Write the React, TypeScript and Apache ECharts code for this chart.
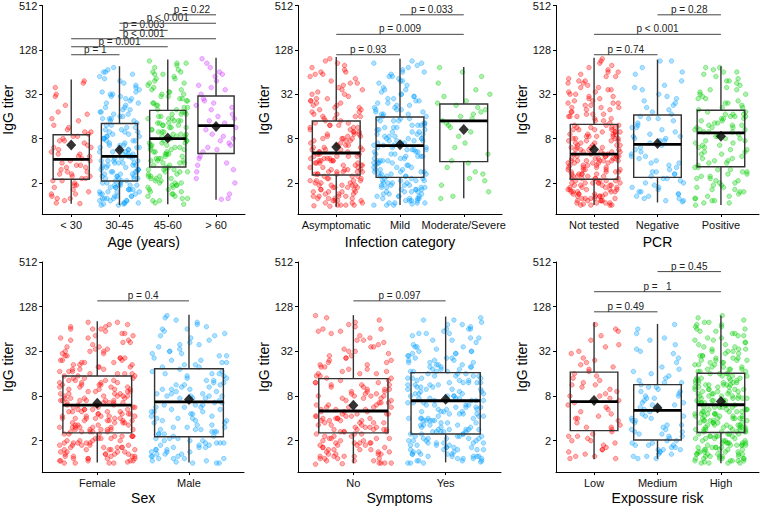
import React, { useEffect, useRef } from "react";
import * as echarts from "echarts";

const FONT = '"Liberation Sans", Arial, Helvetica, sans-serif';

// ---------- tick labels (log2 scale) ----------
const yTickExponents = [1, 3, 5, 7, 9]; // 2, 8, 32, 128, 512
const yName = "IgG titer";

// ---------- Panel 1: Age ----------
const ageCats = ["< 30", "30-45", "45-60", "> 60"];
const ageTitle = "Age (years)";
const ageU30 = [0.1,2.3,1.3,3.4,5.6,0.4,3.1,1.9,1.5,4.2,0.9,2.6,2.1,2.0,3.3,0.2,1.0,4.9,1.2,2.9,3.8,2.4,0.6,1.7,1.4,0.3,5.5,3.0,2.2,3.5,1.8,1.1,0.5,1.6,2.7,4.5,3.3,0.8,1.3,2.5,3.1,5.0,0.07,2.0,1.5,2.8,3.9,0.7,1.1,4.1,2.3,1.8,3.6,1.2,0.3,2.6,2.9,0.9,5.3,1.7,1.4,2.2,0.5,3.2];
const age3045 = [0.2,1.5,2.9,4.4,5.1,0.7,1.9,3.1,2.4,4.0,0.05,1.3,1.8,3.5,5.8,0.9,0.4,2.7,1.2,4.8,3.9,1.6,0.6,2.5,2.0,0.1,3.3,5.4,6.2,2.3,1.0,1.4,0.3,1.7,3.0,4.1,4.6,0.8,2.1,2.6,1.1,5.0,0.5,3.6,2.8,1.3,4.3,0.0,0.6,3.2,1.9,6.0,3.8,2.0,0.2,2.4,1.5,0.9,5.6,3.4,2.2,4.9,1.2,0.4,0.7,1.6,2.7,3.9,5.3,0.3,2.9,1.8,1.0,3.1,4.5,1.4,2.5,0.1,1.1,5.9,4.2,2.1,0.8,3.5,1.7,3.3,0.5,4.7,0.9,5.2,1.5,2.3,3.0,1.2,6.1,0.2,0.6,2.6,1.9,4.0,4.4,0.4,3.6,2.0,1.3,3.2,0.0,5.5,2.8,1.8,4.1,0.7,0.3,4.9,1.0,2.4,5.7,2.2,1.6,0.8,1.4,0.5,3.4,3.8,2.9,4.6,0.1,1.7,0.9,1.2,2.6,5.0,4.3,3.0,1.9,0.6,1.1,0.2,3.7,2.1,2.5,6.0,0.4,1.5,3.3,1.3,0.7,4.2,0.05,2.7,5.1,2.0,1.8,3.9,0.9,3.1,4.8,0.3,2.3,1.6];
const age4560 = [0.3,2.1,3.5,5.2,4.8,1.2,2.6,3.9,3.1,5.9,0.7,2.4,1.9,3.7,6.4,1.5,0.9,2.8,4.1,4.5,5.5,3.3,1.0,2.0,2.3,0.1,3.8,6.0,4.3,2.9,1.6,3.2,1.3,1.8,4.0,5.0,6.2,0.5,2.5,3.6,2.7,4.7,1.1,3.0,3.4,2.2,5.7,0.4,0.8,4.2,1.9,4.9,5.3,2.6,0.2,3.5,1.7,1.4,6.5,3.9,2.0,4.4,3.1,0.6,1.2,3.7,2.4,5.8,4.6,0.9,2.9,3.3,3.8,1.6,5.1,2.1,0.04,5.6,3.2,2.7,6.1,2.3,1.5,4.0,2.5,3.4,0.3,4.5,1.0,5.4,2.8,3.6,3.0,1.8,4.8,1.3,4.1,2.2,6.3,0.7,0.5,4.3,1.9,5.0,5.2,2.6,3.9,1.1,1.6,0.2,3.1,4.7,2.9,6.0,1.4,3.5,3.3,2.0,5.9,0.8,0.6,3.8,2.4,4.4,4.9,1.2,2.7,4.2,2.1,5.7,0.4,3.0,3.6,1.7,4.6,1.5,1.0,3.2,2.3,6.4,5.5,0.9,3.7,2.5,2.8,4.1,1.3,5.1];
const ageO60 = [1.2,3.0,4.3,5.6,6.6,0.3,2.6,3.9,4.6,5.2,1.8,2.9,3.4,4.1,6.2,0.5,2.1,2.5,4.8,5.9,5.0,3.7,1.0,3.2,2.8,1.5,4.0,6.4,4.4,2.4,0.26,5.4,1.9,5.8,3.5,3.8,6.0,2.2,2.7,4.7,3.1,4.5,1.6,5.3];
const ageLo = [0.06, 0.0, 0.04, 0.24];
const ageQ1 = [1.17, 1.09, 1.72, 2.33];
const ageMed = [2.06, 2.2, 3.0, 3.58];
const ageQ3 = [3.17, 3.68, 4.27, 4.92];
const ageHi = [5.66, 6.26, 6.56, 6.65];
const ageMean = [2.71, 2.48, 3.03, 3.55];
const ageP: [number, number, number, string][] = [
  [0, 1, 6.78, "p = 1"],
  [0, 2, 7.14, "p = 0.001"],
  [0, 3, 7.5, "p < 0.001"],
  [1, 2, 7.88, "p = 0.003"],
  [1, 3, 8.2, "p < 0.001"],
  [2, 3, 8.58, "p = 0.22"],
];

// ---------- Panel 2: Infection category ----------
const infCats = ["Asymptomatic", "Mild", "Moderate/Severe"];
const infTitle = "Infection category";
const infAsym = [0.2,1.8,3.1,4.6,5.9,0.6,2.0,2.7,3.5,4.2,-0.05,1.5,1.4,3.0,6.5,1.1,0.8,2.2,2.5,5.2,4.0,1.7,0.3,3.3,2.9,0.0,1.9,6.1,4.8,2.4,1.2,1.6,0.5,2.1,3.6,3.9,5.5,0.9,1.5,2.6,1.0,4.4,0.1,3.2,2.8,1.9,5.7,0.7,0.4,3.4,2.3,6.6,4.1,1.4,0.9,2.5,1.6,0.2,3.7,5.0,3.0,5.9,1.3,0.6,0.0,2.2,2.7,4.3,6.3,1.1,3.1,1.8,2.0,3.5,4.7,0.4,1.3,0.8,2.4,5.4,4.5,2.9,0.3,1.5,2.1,3.8,1.0,4.0,0.7,6.0,1.7,3.3,3.6,1.4,5.1,0.1,0.5,2.6,2.0,4.9,4.2,0.9,3.0,1.9,1.2,3.2,-0.03,6.4,2.3,1.6,4.6,0.8,0.2,5.6,1.1,2.8,5.3,2.1,1.5,0.4,1.8,0.6,3.4,3.9,2.5,4.8,0.0,1.4,0.9,1.0,2.9,5.8,4.4,3.6,2.2,0.3,1.3,0.1,3.1,2.0,2.7,6.2,0.6,1.7,3.5,1.5,0.7,4.1,0.2,2.4,5.0,1.9,1.6,4.3,0.9,3.3,4.7,0.5,2.6,2.2,2.0,3.0,0.4,5.5,0.8,5.2,1.2,2.5,3.7,1.8,6.0,0.0,1.1,3.2,2.1,4.5,2.3,0.3,3.8,4.0];
const infMild = [0.3,1.9,3.2,4.8,5.6,0.8,2.4,2.9,3.6,4.3,0.05,1.6,1.3,3.0,6.4,1.0,0.6,2.6,2.8,5.3,4.1,2.0,0.2,3.4,3.1,0.1,1.5,6.0,4.6,2.2,1.1,1.8,0.4,2.5,3.8,4.0,5.9,0.9,1.4,3.3,1.2,4.5,0.0,2.9,3.5,2.1,5.1,0.7,0.5,3.7,1.7,6.5,4.2,1.3,0.8,3.0,1.9,0.3,3.9,5.0,2.7,6.2,1.6,0.6,0.1,2.3,3.2,4.4,6.1,1.0,3.6,2.0,2.5,3.4,4.9,0.4,1.4,0.9,2.8,5.5,4.7,3.1,0.2,1.7,2.2,3.8,1.1,4.1,0.7,5.8,1.5,3.5,3.3,1.8,5.2,0.0,0.5,2.6,2.4,4.6,4.3,1.0,3.0,1.3,1.2,3.7,0.1,6.3,2.1,1.6,4.8,0.8,0.3,5.4,2.0,2.9,5.7,2.5,1.4,0.6,1.9,0.4,3.5,3.9,2.7,4.2,0.0,1.5,0.9,1.1,3.1,6.0,4.5,3.6,2.3,0.2,1.3,0.7,3.3,2.2,2.8,5.0,0.5,1.8,3.8,1.7,0.8,4.4,0.2,2.4,5.6,2.0,1.5,4.0,1.0,3.2,4.9,0.4,2.6,2.3,2.1,3.4,0.3,5.2,0.9,6.4,1.2,2.7,3.9,1.4,4.7,0.1,1.1,2.9,2.5,4.3,2.2,0.6,3.0,5.8,3.6,1.9,0.7,4.1];
const infMod = [0.4,2.3,4.0,5.2,6.2,1.2,3.5,4.3,4.5,5.8,0.9,2.8,1.7,3.9,4.9,1.5,0.6,3.1,4.2,5.5,4.7,2.0,1.1,3.7,3.3,0.3,4.4,6.0,5.0,2.6,1.9,3.8,1.4,3.6,4.1,4.6];
const infLo = [-0.07, 0.01, 0.31];
const infQ1 = [1.36, 1.25, 1.96];
const infMed = [2.35, 2.68, 3.8];
const infQ3 = [3.79, 3.97, 4.56];
const infHi = [6.68, 6.6, 6.23];
const infMean = [2.62, 2.72, 3.41];
const infP: [number, number, number, string][] = [
  [0, 1, 6.78, "p = 0.93"],
  [0, 2, 7.7, "p = 0.009"],
  [1, 2, 8.58, "p = 0.033"],
];

// ---------- Panel 3: PCR ----------
const pcrCats = ["Not tested", "Negative", "Positive"];
const pcrTitle = "PCR";
const pcrNT = [0.1,1.6,2.9,4.5,5.8,0.7,2.0,2.5,3.3,4.1,0.0,1.4,1.2,2.7,6.6,0.9,0.5,2.2,3.1,5.2,4.0,1.8,0.3,3.5,2.6,0.2,1.5,6.1,4.7,2.4,1.0,1.9,0.6,2.1,3.4,3.8,5.5,0.8,1.3,2.8,1.1,4.3,0.05,3.0,2.3,1.7,5.0,0.4,0.9,3.2,2.0,6.3,4.4,1.2,0.6,2.6,1.9,0.1,3.6,4.9,2.9,5.7,1.4,0.8,0.3,2.2,2.4,4.2,6.0,1.0,3.3,1.6,2.1,3.0,4.6,0.5,1.3,0.7,2.7,5.4,3.9,2.5,0.0,1.8,2.0,3.5,1.1,4.0,0.4,5.9,1.5,3.1,3.4,1.2,5.1,0.2,0.9,2.3,2.2,4.4,4.8,0.6,2.9,1.7,1.4,3.3,0.1,6.5,2.6,1.9,4.1,1.0,0.3,5.3,1.3,3.2,5.6,2.0,1.6,0.7,1.8,0.5,3.0,3.7,2.4,4.6,0.0,1.5,0.8,1.1,2.8,5.8,4.3,3.5,2.1,0.4,1.3,0.2,3.6,2.2,2.5,6.2,0.9,1.7,3.1,1.4,0.6,4.0,0.2,2.0,5.2,2.7,1.6,4.5,1.0,3.4,4.9,0.5,2.3,1.9,2.2,3.2,0.3,5.0,0.7,5.5,1.2,2.6,3.6,1.8,6.4,0.0,1.1,2.9,2.0,4.2,2.1,0.4,3.3,4.7,0.8,1.5,2.5,3.9,5.1,0.1,1.2,3.0,3.5,4.4,0.6,2.3,1.9,2.7,5.6,1.0,0.5,3.1,1.4,4.1,4.6,2.2,0.2,3.4,2.8,0.9,1.7,6.0,0.3,1.6,3.2,4.8,5.3,2.1,0.7,2.4,1.0,3.8,2.0,0.4];
const pcrNeg = [0.3,1.9,3.2,4.6,5.9,0.8,2.4,3.0,3.7,4.3,0.15,1.5,1.4,3.5,6.5,1.0,0.5,2.6,2.9,5.3,4.1,2.0,0.2,3.9,3.4,0.4,1.7,6.2,4.9,2.3,1.1,1.3,0.7,2.1,3.8,4.4,5.6,0.9,1.6,3.1,1.2,4.7,0.3,2.8,3.3,2.5,5.0,0.6,0.2,3.6,1.8,6.0,4.2,1.4,0.8,2.9,2.2,0.5,4.0,5.4,3.0,6.5,1.5,1.0,0.4,2.7,3.5,4.8,5.2,1.2,2.2,3.1,1.9,3.9,0.6,4.5];
const pcrPos = [0.4,2.3,3.6,5.0,5.8,1.1,2.8,3.9,3.3,4.5,0.1,2.0,1.8,4.0,6.2,1.5,0.7,3.0,3.4,5.4,4.8,2.5,0.3,4.1,3.7,0.9,2.1,6.0,5.2,2.9,1.6,3.5,1.2,1.9,4.2,4.4,6.1,0.5,2.6,3.8,2.4,5.6,1.3,3.3,4.0,3.1,4.7,0.0,0.8,3.6,2.2,5.9,4.6,1.7,1.0,2.7,1.4,0.2,4.1,5.1,3.0,6.2,1.6,3.4,0.6,2.0,3.9,4.9,5.5,1.2,2.4,3.7,2.8,3.5,5.3,0.4,1.5,0.9,3.2,4.3,4.4,2.6,0.1,3.8,2.1,4.2,1.1,5.7,0.3,6.0,1.9,3.6,3.3,1.4,4.8,0.7,1.0,2.5,3.5,4.6,5.0,0.6,2.9,4.0,1.7,3.9,0.2,2.3,2.7,5.2,1.3,3.4,3.1,4.1,0.8,5.6];
const pcrLo = [0.01, 0.12, 0.01];
const pcrQ1 = [1.17, 1.25, 1.73];
const pcrMed = [2.3, 2.74, 3.26];
const pcrQ3 = [3.64, 4.06, 4.28];
const pcrHi = [6.65, 6.56, 6.26];
const pcrMean = [2.51, 2.78, 3.11];
const pcrP: [number, number, number, string][] = [
  [0, 1, 6.78, "p = 0.74"],
  [0, 2, 7.7, "p < 0.001"],
  [1, 2, 8.58, "p = 0.28"],
];

// ---------- Panel 4: Sex ----------
const sexCats = ["Female", "Male"];
const sexTitle = "Sex";
const sexF = [0.2,1.9,3.1,4.5,5.7,0.8,2.2,2.8,3.5,4.2,0.05,1.6,1.5,3.0,6.3,1.1,0.6,2.4,2.7,5.2,4.0,2.0,0.3,3.4,3.2,0.1,1.7,6.0,4.7,2.3,1.2,1.4,0.4,2.1,3.7,3.9,5.5,0.9,1.8,2.9,1.3,4.4,0.0,3.3,2.6,2.5,5.0,0.7,0.5,3.6,1.6,6.2,4.1,1.4,0.9,3.0,2.0,0.2,3.8,4.9,2.7,5.8,1.5,0.6,0.1,2.2,3.2,4.3,6.1,1.0,3.5,1.9,2.4,3.1,4.6,0.4,1.7,0.8,2.8,5.4,4.8,3.3,0.3,2.1,2.3,3.7,1.2,4.0,0.7,5.6,1.5,3.4,3.0,1.8,5.1,0.0,0.5,2.6,2.5,4.5,4.2,1.0,2.9,1.6,1.1,3.6,0.1,6.3,2.2,1.4,4.7,0.8,0.3,5.3,2.0,2.8,5.9,2.4,1.7,0.6,1.9,0.4,3.5,3.8,2.7,4.1,0.0,1.5,0.9,1.2,3.1,6.0,4.4,3.4,2.3,0.2,1.3,0.7,3.2,2.1,2.9,5.0,0.5,1.8,3.7,1.6,0.8,4.3,0.2,2.5,5.5,2.0,1.4,4.0,1.0,3.3,4.9,0.4,2.6,2.2,2.1,3.0,0.3,5.2,0.9,6.2,1.3,2.7,3.8,1.5,4.6,0.1,1.1,2.8,2.4,4.2,2.3,0.6,3.6,5.7,3.9,1.9,0.7,4.8,0.5,1.7,3.4,4.1,5.4,0.2,2.2,2.9,3.1,4.5,1.2,1.6,1.8,3.5,6.1,0.9,0.4,2.0,2.7,5.0,4.3,2.5,0.6,3.7,2.8,0.1,1.4,5.8,4.6,2.1,1.0,3.2,0.8,1.9,3.9,4.0,5.1,0.3,2.4,3.0,2.6,4.7,0.0,1.5,1.6,3.3,5.6,1.1,0.7,2.3,3.6,4.4,6.0,1.2,2.0,2.8];
const sexM = [0.3,2.0,3.3,4.8,5.9,0.7,2.5,3.0,3.8,4.5,0.05,1.5,1.3,3.2,6.6,1.0,0.5,2.7,2.9,5.4,4.3,2.1,0.2,3.6,3.5,0.1,1.8,6.2,5.0,2.4,1.1,1.4,0.4,2.2,4.0,4.6,5.7,0.9,1.6,3.4,1.2,4.9,0.0,3.1,2.8,2.6,5.3,0.6,0.8,3.9,1.9,6.4,4.4,1.3,0.9,3.0,2.3,0.3,4.1,5.1,3.3,6.0,1.7,0.7,0.2,2.5,3.7,4.7,6.3,1.1,3.5,2.0,2.7,3.1,5.6,0.4,1.5,0.8,2.9,5.8,4.9,3.6,0.1,2.2,2.4,4.0,1.0,4.3,0.6,5.5,1.6,3.8,3.2,1.9,5.2,0.0,0.5,2.6,2.1,4.5,4.2,1.0,3.3,1.4,1.2,3.9,0.2,6.1,2.3,1.7,5.0,0.9,0.3,5.7,2.0,3.0,6.5,2.5,1.5,0.7,1.8,0.4,3.7,4.1,2.9,4.6,0.0,1.3,0.8,1.1,3.4,6.0,4.8,3.5,2.6,0.2,1.4,0.6,3.1,2.3,3.0,5.3,0.5,1.9,4.0,1.6,0.9,4.4];
const sexLo = [0.03, 0.03];
const sexQ1 = [1.35, 1.18];
const sexMed = [2.59, 2.74];
const sexQ3 = [3.9, 4.22];
const sexHi = [6.35, 6.64];
const sexMean = [2.68, 2.84];
const sexP: [number, number, number, string][] = [[0, 1, 7.26, "p = 0.4"]];

// ---------- Panel 5: Symptoms ----------
const symCats = ["No", "Yes"];
const symTitle = "Symptoms";
const symNo = infAsym;
const symYes = infMild.concat(infMod);
const symLo = [-0.01, 0.03];
const symQ1 = [1.35, 1.3];
const symMed = [2.33, 2.79];
const symQ3 = [3.78, 4.05];
const symHi = [6.62, 6.56];
const symMean = [2.59, 2.86];
const symP: [number, number, number, string][] = [[0, 1, 7.26, "p = 0.097"]];

// ---------- Panel 6: Exposure risk ----------
const expCats = ["Low", "Medium", "High"];
const expTitle = "Expossure risk";
const expLow = [0.3,2.0,3.3,4.7,5.9,1.0,2.5,3.0,3.7,4.4,0.2,1.6,1.5,3.5,6.2,1.2,0.6,2.7,3.1,5.3,4.2,2.2,0.5,3.9,3.4,0.9,1.8,5.7,4.9,2.4,1.3,1.7,0.4,2.1,3.8,4.3,5.0,0.8,2.6,3.2,1.1,4.6,0.3,2.9,3.6,1.9,5.5,0.7,0.2,3.0,2.3,6.0,4.5,1.4,1.0,3.5,2.0,0.6,4.0,5.2,2.8,4.1,1.6,1.2];
const expMed = [0.3,1.6,2.8,4.2,5.5,0.7,1.9,2.5,3.2,3.8,0.2,1.2,1.4,2.6,6.2,0.9,0.5,2.1,3.0,5.0,3.6,1.8,0.4,3.4,2.7,0.8,1.3,5.8,4.5,2.2,1.0,1.5,0.6,2.0,3.3,3.7,4.9,0.3,1.7,2.9,1.1,4.1,0.6,2.4,3.1,2.3,5.3,0.8,0.4,3.5,1.5,6.0,3.9,1.2,0.9,2.6,1.9,0.5,3.0,4.7,2.5,5.6,1.4,0.7,0.2,2.1,3.4,4.3,5.1,1.0,2.7,1.7,2.0,3.2,4.0,0.6,1.3,0.8,2.9,3.6];
const expHigh = [0.2,1.9,3.2,4.6,5.8,0.8,2.2,2.9,3.6,4.3,0.0,1.6,1.5,3.1,6.5,1.1,0.6,2.4,2.8,5.3,4.1,2.0,0.3,3.5,3.3,0.1,1.7,6.1,4.8,2.3,1.2,1.4,0.4,2.1,3.8,4.0,5.6,0.9,1.8,3.0,1.3,4.5,0.05,3.4,2.7,2.5,5.1,0.7,0.5,3.7,1.6,6.3,4.2,1.4,0.9,3.1,2.0,0.2,3.9,5.0,2.8,5.9,1.5,0.6,0.1,2.2,3.3,4.4,6.2,1.0,3.6,1.9,2.4,3.2,4.7,0.4,1.7,0.8,2.9,5.5,4.9,3.4,0.3,2.1,2.3,3.8,1.2,4.1,0.7,5.7,1.5,3.5,3.0,1.8,5.2,0.0,0.5,2.6,2.5,4.6,4.3,1.0,3.0,1.6,1.1,3.7,0.1,6.4,2.2,1.4,4.8,0.8,0.3,5.4,2.0,2.9,6.0,2.4,1.7,0.6,1.9,0.4,3.6,3.9,2.7,4.2,0.0,1.5,0.9,1.2,3.2,6.1,4.5,3.5,2.3,0.2,1.3,0.7,3.3,2.1,2.9,5.1,0.5,1.8,3.8,1.6,0.8,4.4,0.2,2.5,5.6,2.0,1.4,4.0,1.0,3.4,5.0,0.4,2.6,2.2,2.1,3.1,0.3,5.3,0.9,6.3,1.3,2.7,3.9,1.5,4.7,0.1,1.1,2.8,2.4,4.3,2.3,0.6,3.7,5.8,4.0,1.9,0.7,4.9,0.5,1.7,3.5,4.2,5.5,0.2,2.2,3.0,3.2,4.6,1.2,1.6,1.8,3.6,6.2,0.9,0.4,2.0,2.8,5.1,4.4,2.5,0.6,3.8,2.9,0.1,1.4,5.9,4.7,2.1,1.0,3.3,0.8,1.9,4.0,4.1,5.2,0.3,2.4,3.1,2.6,4.8,0.0,1.5,1.6,3.4,5.7,1.1,0.7,2.3,3.7,4.5,6.0,1.2,2.0,2.8,3.5,4.2,0.4,1.8,1.3,2.7,6.6,0.5,0.9,2.2,3.0,5.4,4.6,1.7,0.2,3.6,3.3,0.8,2.5,5.0];
const expLo = [0.17, 0.19, -0.01];
const expQ1 = [1.45, 1.03, 1.37];
const expMedn = [2.75, 2.36, 2.61];
const expQ3 = [4.07, 3.51, 4.02];
const expHi = [6.3, 6.23, 6.61];
const expMean = [2.8, 2.47, 2.76];
const expP: [number, number, number, string][] = [
  [0, 1, 6.77, "p = 0.49"],
  [0, 2, 7.67, "p =   1"],
  [1, 2, 8.57, "p = 0.45"],
];

// ---------- styles / layout (not data) ----------
const RED = [255, 0, 0];
const BLUE = [0, 160, 255];
const GREEN = [0, 205, 0];
const PURPLE = [204, 51, 255];
const JITTER = [-0.31,0.18,0.39,-0.08,0.27,-0.4,0.04,-0.19,0.33,-0.27,0.11,-0.36,0.22,-0.02,0.41,-0.14,0.07,-0.33,0.3,-0.24,0.15,-0.41,0.36,-0.1,0.01,-0.29,0.25,-0.17,0.38,-0.05,0.19,-0.38,0.09,-0.21,0.34,-0.12,0.28,-0.35,0.02,-0.26,0.13];
const LAYOUT = [
  { left: 41, top: 5, width: 204, height: 209 },
  { left: 298, top: 5, width: 204, height: 209 },
  { left: 556, top: 5, width: 203, height: 209 },
  { left: 41, top: 262, width: 203, height: 210 },
  { left: 298, top: 262, width: 203, height: 210 },
  { left: 556, top: 262, width: 203, height: 210 },
];

type Panel = {
  cats: string[];
  title: string;
  groups: number[][];
  colors: number[][];
  lo: number[];
  q1: number[];
  med: number[];
  q3: number[];
  hi: number[];
  mean: number[];
  brackets: [number, number, number, string][];
};

const PANELS: Panel[] = [
  { cats: ageCats, title: ageTitle, groups: [ageU30, age3045, age4560, ageO60], colors: [RED, BLUE, GREEN, PURPLE], lo: ageLo, q1: ageQ1, med: ageMed, q3: ageQ3, hi: ageHi, mean: ageMean, brackets: ageP },
  { cats: infCats, title: infTitle, groups: [infAsym, infMild, infMod], colors: [RED, BLUE, GREEN], lo: infLo, q1: infQ1, med: infMed, q3: infQ3, hi: infHi, mean: infMean, brackets: infP },
  { cats: pcrCats, title: pcrTitle, groups: [pcrNT, pcrNeg, pcrPos], colors: [RED, BLUE, GREEN], lo: pcrLo, q1: pcrQ1, med: pcrMed, q3: pcrQ3, hi: pcrHi, mean: pcrMean, brackets: pcrP },
  { cats: sexCats, title: sexTitle, groups: [sexF, sexM], colors: [RED, BLUE], lo: sexLo, q1: sexQ1, med: sexMed, q3: sexQ3, hi: sexHi, mean: sexMean, brackets: sexP },
  { cats: symCats, title: symTitle, groups: [symNo, symYes], colors: [RED, BLUE], lo: symLo, q1: symQ1, med: symMed, q3: symQ3, hi: symHi, mean: symMean, brackets: symP },
  { cats: expCats, title: expTitle, groups: [expLow, expMed, expHigh], colors: [RED, BLUE, GREEN], lo: expLo, q1: expQ1, med: expMedn, q3: expQ3, hi: expHi, mean: expMean, brackets: expP },
];

const rgba = (c: number[], a: number) => `rgba(${c[0]},${c[1]},${c[2]},${a})`;

function buildOption() {
  const grid: any[] = [];
  const xAxis: any[] = [];
  const yAxis: any[] = [];
  const series: any[] = [];

  PANELS.forEach((p, pi) => {
    const L = LAYOUT[pi];
    grid.push({ left: L.left, top: L.top, width: L.width, height: L.height, containLabel: false });
    const idx = p.cats.map((_, i) => i);
    xAxis.push({
      type: "value",
      gridIndex: pi,
      min: -0.6,
      max: p.cats.length - 0.4,
      splitLine: { show: false },
      axisLine: { show: true, onZero: false, lineStyle: { color: "#000", width: 1 } },
      axisTick: { show: true, customValues: idx, length: 3, lineStyle: { color: "#000" } },
      axisLabel: {
        customValues: idx,
        formatter: (v: number) => p.cats[Math.round(v)] ?? "",
        fontSize: 11,
        color: "#111",
        fontFamily: FONT,
        margin: 5,
      },
      name: p.title,
      nameLocation: "middle",
      nameGap: pi < 3 ? 21 : 19,
      nameTextStyle: { fontSize: 14, color: "#000", fontFamily: FONT },
    });
    yAxis.push({
      type: "value",
      gridIndex: pi,
      min: -0.4,
      max: 9,
      splitLine: { show: false },
      axisLine: { show: true, onZero: false, lineStyle: { color: "#000", width: 1 } },
      axisTick: { show: true, customValues: yTickExponents, length: 3, lineStyle: { color: "#000" } },
      axisLabel: {
        customValues: yTickExponents,
        formatter: (v: number) => String(Math.pow(2, Math.round(v))),
        fontSize: 11,
        color: "#111",
        fontFamily: FONT,
        margin: 5,
      },
      name: yName,
      nameLocation: "middle",
      nameGap: 22,
      nameTextStyle: { fontSize: 14, color: "#000", fontFamily: FONT },
    });

    // jittered points
    p.groups.forEach((vals, gi) => {
      const c = p.colors[gi];
      series.push({
        type: "scatter",
        xAxisIndex: pi,
        yAxisIndex: pi,
        symbol: "circle",
        symbolSize: 4.6,
        silent: true,
        z: 1,
        itemStyle: { color: rgba(c, 0.4), borderColor: rgba(c, 0.6), borderWidth: 0.7 },
        data: vals.map((v, i) => [gi + JITTER[(i + pi * 13 + gi * 7) % JITTER.length], v]),
      });
    });

    // boxes
    series.push({
      type: "custom",
      xAxisIndex: pi,
      yAxisIndex: pi,
      z: 3,
      silent: true,
      encode: { x: 0, y: [1, 2, 3, 4, 5] },
      data: idx.map((i) => [i, p.lo[i], p.q1[i], p.med[i], p.q3[i], p.hi[i]]),
      renderItem: (params: any, api: any) => {
        const x = api.value(0);
        const w = 0.375;
        const lo = api.coord([x, api.value(1)]);
        const q1 = api.coord([x, api.value(2)]);
        const md = api.coord([x, api.value(3)]);
        const q3 = api.coord([x, api.value(4)]);
        const hi = api.coord([x, api.value(5)]);
        const l = api.coord([x - w, 0])[0];
        const r = api.coord([x + w, 0])[0];
        const stroke = "#333";
        return {
          type: "group",
          children: [
            { type: "line", shape: { x1: hi[0], y1: hi[1], x2: q3[0], y2: q3[1] }, style: { stroke, lineWidth: 1.4 } },
            { type: "line", shape: { x1: q1[0], y1: q1[1], x2: lo[0], y2: lo[1] }, style: { stroke, lineWidth: 1.4 } },
            { type: "rect", shape: { x: l, y: q3[1], width: r - l, height: q1[1] - q3[1] }, style: { fill: "rgba(0,0,0,0)", stroke, lineWidth: 1.4 } },
            { type: "line", shape: { x1: l, y1: md[1], x2: r, y2: md[1] }, style: { stroke: "#000", lineWidth: 2.8 } },
          ],
        };
      },
    });

    // means
    series.push({
      type: "scatter",
      xAxisIndex: pi,
      yAxisIndex: pi,
      symbol: "diamond",
      symbolSize: [10, 11],
      silent: true,
      z: 5,
      itemStyle: { color: "#000" },
      data: idx.map((i) => [i, p.mean[i]]),
    });

    // p-value brackets
    const labels = p.brackets.map((b) => b[3]);
    series.push({
      type: "custom",
      xAxisIndex: pi,
      yAxisIndex: pi,
      z: 6,
      silent: true,
      encode: { x: [0, 1], y: 2 },
      data: p.brackets.map((b) => [b[0], b[1], b[2]]),
      renderItem: (params: any, api: any) => {
        const a = api.coord([api.value(0), api.value(2)]);
        const b = api.coord([api.value(1), api.value(2)]);
        return {
          type: "group",
          children: [
            { type: "line", shape: { x1: a[0], y1: a[1], x2: b[0], y2: b[1] }, style: { stroke: "#444", lineWidth: 1 } },
            {
              type: "text",
              x: (a[0] + b[0]) / 2,
              y: a[1] - 0.5,
              style: { text: labels[params.dataIndex], fontSize: 10, fill: "#222", align: "center", verticalAlign: "bottom", fontFamily: FONT },
            },
          ],
        };
      },
    });
  });

  return {
    animation: false,
    backgroundColor: "#ffffff",
    textStyle: { fontFamily: FONT },
    grid,
    xAxis,
    yAxis,
    series,
  };
}

export default function App() {
  const ref = useRef<HTMLDivElement>(null);
  useEffect(() => {
    if (!ref.current) return;
    const chart = echarts.init(ref.current, null, { renderer: "svg" });
    chart.setOption(buildOption() as any);
    return () => chart.dispose();
  }, []);
  return (
    <div
      ref={ref}
      style={{ position: "fixed", left: 0, top: 0, width: 760, height: 506, background: "#fff" }}
    />
  );
}
